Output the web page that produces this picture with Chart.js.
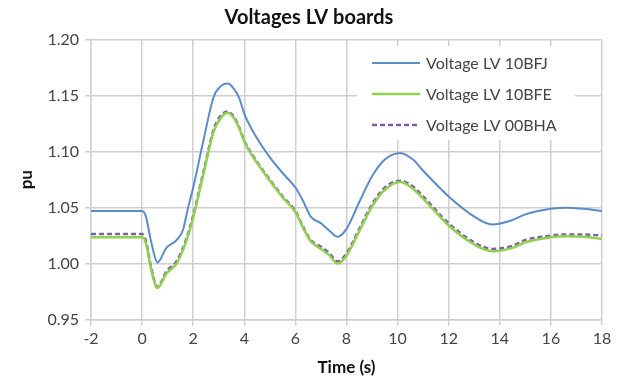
<!DOCTYPE html>
<html>
<head>
<meta charset="utf-8">
<script src="https://cdn.jsdelivr.net/npm/chart.js@4.4.1/dist/chart.umd.min.js"></script>
<style>
  html, body { margin: 0; padding: 0; background: #fff; }
  #wrap { width: 621px; height: 384px; }
</style>
</head>
<body>
<div id="wrap"><canvas id="voltChart" width="621" height="384"></canvas></div>
<script>
// time axis (s)
const timeS = [-2, 0, 0.15, 0.35, 0.6, 0.95, 1.35, 1.6, 1.8, 2.0, 2.4, 2.8, 3.1, 3.35, 3.6, 3.8, 4.0, 4.5, 5.0, 5.5, 6.0, 6.3, 6.6, 7.0, 7.3, 7.65, 8.0, 8.5, 9.0, 9.5, 10.1, 10.6, 11.0, 12.0, 13.0, 13.7, 14.5, 15.0, 16.0, 16.6, 17.3, 18.0];

const lv10BFJ = [1.047, 1.047, 1.042, 1.020, 1.001, 1.014, 1.021, 1.030, 1.050, 1.068, 1.110, 1.149, 1.159, 1.161, 1.156, 1.148, 1.134, 1.112, 1.095, 1.081, 1.068, 1.056, 1.042, 1.036, 1.030, 1.024, 1.031, 1.055, 1.078, 1.093, 1.099, 1.093, 1.083, 1.060, 1.042, 1.035, 1.039, 1.044, 1.049, 1.050, 1.049, 1.047];

const lv10BFE = [1.0235, 1.0235, 1.018, 0.995, 0.978, 0.991, 1.000, 1.012, 1.025, 1.041, 1.080, 1.118, 1.131, 1.135, 1.130, 1.121, 1.109, 1.090, 1.074, 1.059, 1.046, 1.032, 1.020, 1.013, 1.008, 1.000, 1.007, 1.029, 1.051, 1.066, 1.073, 1.067, 1.058, 1.034, 1.017, 1.011, 1.014, 1.019, 1.0235, 1.0245, 1.024, 1.022];

const lv00BHA = [1.0265, 1.0265, 1.020, 0.997, 0.979, 0.993, 1.002, 1.014, 1.027, 1.043, 1.082, 1.120, 1.133, 1.136, 1.131, 1.122, 1.110, 1.091, 1.075, 1.060, 1.047, 1.033, 1.021, 1.015, 1.010, 1.002, 1.009, 1.031, 1.053, 1.068, 1.074, 1.069, 1.060, 1.036, 1.019, 1.013, 1.016, 1.021, 1.025, 1.026, 1.026, 1.025];

const seriesNames = ['Voltage LV 10BFJ', 'Voltage LV 10BFE', 'Voltage LV 00BHA'];
const yTicks = [0.95, 1.00, 1.05, 1.10, 1.15, 1.20];
const xTicks = [-2, 0, 2, 4, 6, 8, 10, 12, 14, 16, 18];

const FONT = 'Lato, "Open Sans", sans-serif';
const textColor = '#444';
const gridColor = '#cfcfcf';

const toPoints = vals => timeS.map((t, i) => ({ x: t, y: vals[i] }));

// legend drawn inside the plot area, top right, on a white box
const insideLegend = {
  id: 'insideLegend',
  afterDatasetsDraw(chart) {
    const { ctx, chartArea } = chart;
    const boxLeft = chartArea.right - 245;
    const boxTop = chartArea.top + 6;
    ctx.save();
    ctx.fillStyle = '#fff';
    ctx.fillRect(boxLeft, boxTop, 218, 94);
    ctx.font = '16px ' + FONT;
    ctx.textBaseline = 'middle';
    chart.data.datasets.forEach((ds, i) => {
      const y = boxTop + 17 + i * 31;
      ctx.beginPath();
      ctx.strokeStyle = ds.borderColor;
      ctx.lineWidth = ds.borderWidth;
      ctx.setLineDash(ds.borderDash || []);
      ctx.moveTo(boxLeft + 15, y);
      ctx.lineTo(boxLeft + 63, y);
      ctx.stroke();
      ctx.setLineDash([]);
      ctx.fillStyle = textColor;
      ctx.fillText(ds.label, boxLeft + 69, y + 1);
    });
    ctx.restore();
  }
};

const ctx = document.getElementById('voltChart').getContext('2d');
new Chart(ctx, {
  type: 'line',
  data: {
    datasets: [
      {
        label: seriesNames[0],
        data: toPoints(lv10BFJ),
        borderColor: '#5b8cc8',
        borderWidth: 2
      },
      {
        label: seriesNames[1],
        data: toPoints(lv10BFE),
        borderColor: '#8fd14f',
        borderWidth: 2.5
      },
      {
        label: seriesNames[2],
        data: toPoints(lv00BHA),
        borderColor: '#7f5fa8',
        borderWidth: 2.5,
        borderDash: [5, 3]
      }
    ]
  },
  options: {
    responsive: false,
    animation: false,
    devicePixelRatio: 1,
    layout: { padding: { left: 16, right: 19, top: 3, bottom: 6 } },
    elements: {
      point: { radius: 0 },
      line: { cubicInterpolationMode: 'monotone', fill: false }
    },
    plugins: {
      legend: { display: false },
      tooltip: { enabled: false },
      title: {
        display: true,
        text: 'Voltages LV boards',
        color: '#111',
        font: { family: FONT, size: 20, weight: 'bold' },
        padding: { top: 3, bottom: 10 }
      }
    },
    scales: {
      x: {
        type: 'linear',
        min: -2,
        max: 18,
        afterBuildTicks: axis => { axis.ticks = xTicks.map(v => ({ value: v })); },
        grid: { color: gridColor, lineWidth: 1.5, tickLength: 6 },
        border: { color: gridColor, width: 1.5 },
        ticks: { color: textColor, font: { family: FONT, size: 16 }, padding: 4, maxRotation: 0 },
        title: {
          display: true,
          text: 'Time (s)',
          color: '#111',
          font: { family: FONT, size: 17, weight: 'bold' },
          padding: { top: 5, bottom: 0 }
        }
      },
      y: {
        min: 0.95,
        max: 1.20,
        afterBuildTicks: axis => { axis.ticks = yTicks.map(v => ({ value: v })); },
        grid: { color: gridColor, lineWidth: 1.5, tickLength: 6 },
        border: { color: gridColor, width: 1.5 },
        ticks: {
          color: textColor,
          font: { family: FONT, size: 16 },
          padding: 6,
          callback: v => Number(v).toFixed(2)
        },
        title: {
          display: true,
          text: 'pu',
          color: '#111',
          font: { family: FONT, size: 17, weight: 'bold' },
          padding: { top: 0, bottom: 5 }
        }
      }
    }
  },
  plugins: [insideLegend]
});
</script>
</body>
</html>
